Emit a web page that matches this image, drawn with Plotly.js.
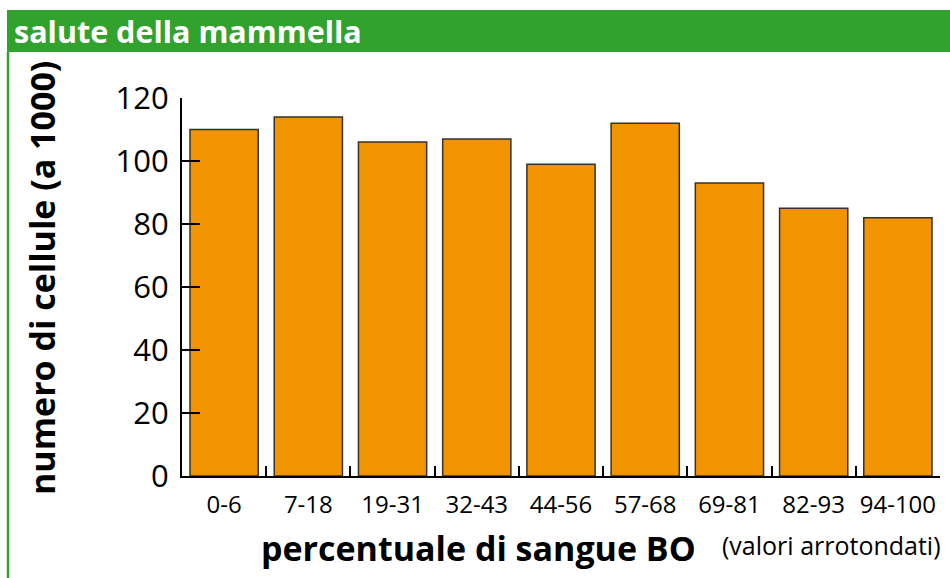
<!DOCTYPE html>
<html>
<head>
<meta charset="utf-8">
<script src="https://cdn.plot.ly/plotly-3.0.1.min.js"></script>
<style>html,body{margin:0;padding:0;background:#fff;}#chart{width:950px;height:578px;}</style>
</head>
<body>
<div id="chart"></div>
<script>
const categories = ["0-6", "7-18", "19-31", "32-43", "44-56", "57-68", "69-81", "82-93", "94-100"];
const cellCounts = [110, 114, 106, 107, 99, 112, 93, 85, 82];
const yTickValues = [0, 20, 40, 60, 80, 100, 120];

const W = 950, H = 578;
const L = 182, R = 10, T = 98, B = 102;
const pw = W - L - R, ph = H - T - B;
const px = v => (v - L) / pw;
const py = v => (H - B - v) / ph;

const green = "#31a22e";
const fontFam = "'Open Sans', 'DejaVu Sans', sans-serif";

const trace = {
  type: "bar",
  x: categories,
  y: cellCounts,
  marker: { color: "#f29400", line: { color: "#333333", width: 1.5 } },
  hoverinfo: "x+y"
};

const layout = {
  width: W, height: H,
  margin: { l: L, r: R, t: T, b: B, pad: 0 },
  paper_bgcolor: "#ffffff",
  plot_bgcolor: "#ffffff",
  showlegend: false,
  bargap: 0.19,
  font: { family: fontFam, color: "#000" },
  title: {
    text: "<b>salute della mammella</b>",
    xref: "container", yref: "container",
    x: 14 / W, xanchor: "left",
    y: 1 - 32 / H, yanchor: "middle",
    font: { family: fontFam, size: 30.5, color: "#ffffff" }
  },
  xaxis: {
    type: "category",
    tickson: "boundaries",
    tickangle: 0,
    ticks: "inside", ticklen: 10, tickwidth: 2, tickcolor: "#000",
    showline: true, linecolor: "#000", linewidth: 2,
    showgrid: false, zeroline: false,
    tickfont: { family: fontFam, size: 24, color: "#000" },
    ticklabelstandoff: 6,
    fixedrange: true
  },
  yaxis: {
    range: [0, 120],
    tickvals: yTickValues,
    ticktext: yTickValues.map(String),
    ticks: "inside", ticklen: 18, tickwidth: 2, tickcolor: "#000",
    showline: true, linecolor: "#000", linewidth: 2,
    showgrid: false, zeroline: false,
    tickfont: { family: fontFam, size: 31, color: "#000" },
    ticklabelstandoff: 5,
    fixedrange: true
  },
  shapes: [
    { type: "rect", xref: "paper", yref: "paper",
      x0: px(7), x1: px(950), y0: py(52), y1: py(10),
      fillcolor: green, line: { width: 0 }, layer: "below" },
    { type: "line", xref: "paper", yref: "paper",
      x0: px(8), x1: px(8), y0: py(52), y1: py(578),
      line: { color: green, width: 2.5 } }
  ],
  annotations: [
    { xref: "paper", yref: "paper",
      x: px(42), y: py(278), xanchor: "center", yanchor: "middle",
      textangle: -90,
      text: "<b>numero di cellule (a 1000)</b>", showarrow: false,
      font: { family: fontFam, size: 34, color: "#000" } },
    { xref: "paper", yref: "paper",
      x: px(478), y: py(548), xanchor: "center", yanchor: "middle",
      text: "<b>percentuale di sangue BO</b>", showarrow: false,
      font: { family: fontFam, size: 34, color: "#000" } },
    { xref: "paper", yref: "paper",
      x: px(943), y: py(545), xanchor: "right", yanchor: "middle",
      text: "(valori arrotondati)", showarrow: false,
      font: { family: fontFam, size: 25, color: "#000" } }
  ]
};

Plotly.newPlot("chart", [trace], layout, { displayModeBar: false, staticPlot: true });
</script>
</body>
</html>
